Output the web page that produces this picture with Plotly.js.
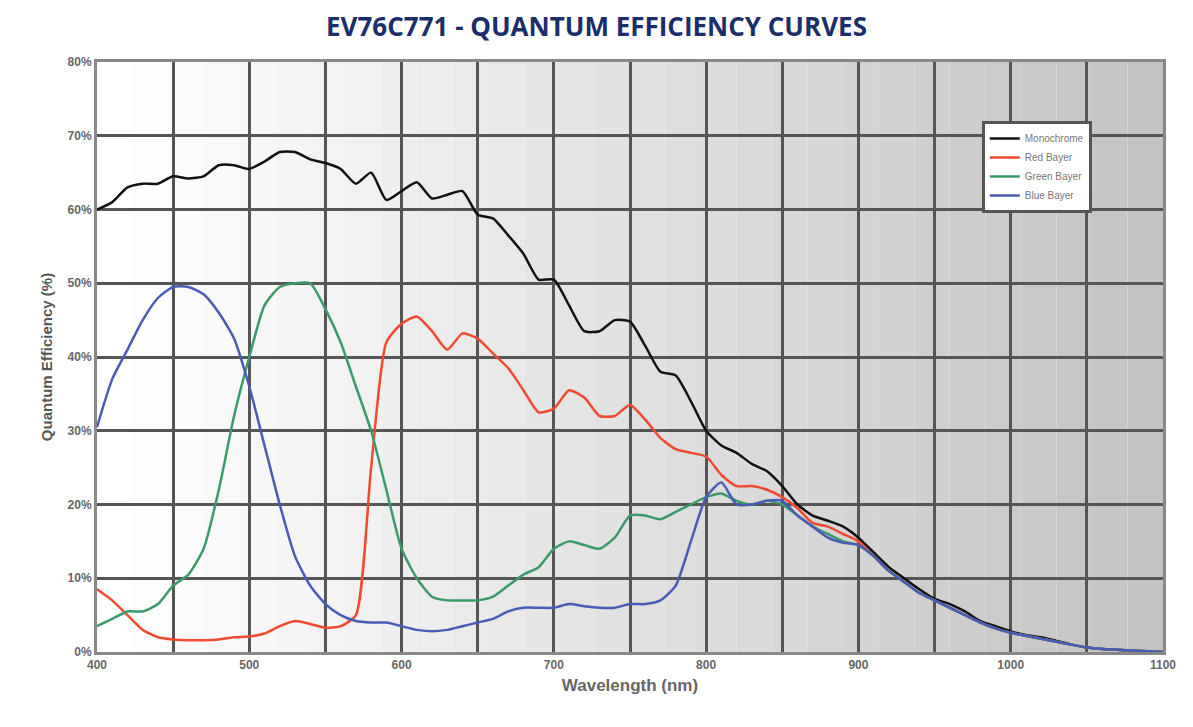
<!DOCTYPE html>
<html>
<head>
<meta charset="utf-8">
<script src="https://cdn.plot.ly/plotly-3.0.1.min.js"></script>
<style>body{margin:0;background:#fff}#myDiv{width:1193px;height:727px}</style>
</head>
<body>
<div id="myDiv"></div>
<script>
var wavelength = [];
for (var w = 400; w <= 1100; w += 10) wavelength.push(w);

var tail = [13.5,11.5,10,8.5,7.2,6.5,5.5,4.2,3.5,2.8,2.3,2,1.5,1,0.6,0.4,0.3,0.2,0.1,0];
var tailBayer = [13,11,9.5,8,7,6,5,4,3.2,2.6,2.2,1.8,1.4,1,0.6,0.4,0.3,0.2,0.1,0];

var mono = [60,61,63,63.5,63.5,64.5,64.2,64.5,66,66,65.5,66.5,67.8,67.8,66.8,66.3,65.5,63.5,65,61.3,
  62.5,63.7,61.5,62,62.5,59.3,58.8,56.5,54,50.5,50.5,47,43.5,43.5,45,44.8,41.5,38,37.5,34,
  30,28,27,25.5,24.5,22.5,20,18.5,17.8,17,15.5].concat(tail);
var red = [8.5,7,5,3,2,1.7,1.6,1.6,1.7,2,2.1,2.5,3.5,4.2,3.8,3.3,3.5,5,25,42,
  44.5,45.5,43.5,41,43.2,42.5,40.5,38.5,35.5,32.5,33,35.5,34.5,32,32,33.5,31.5,29,27.5,27,
  26.5,24,22.5,22.5,22,21,19.5,17.5,17,16,15].concat(tailBayer);
var green = [3.5,4.5,5.5,5.5,6.5,9,10.5,14,22,32,40,47,49.5,50,50,46.5,42,36,30,22,
  14,10,7.5,7,7,7,7.5,9,10.5,11.5,14,15,14.5,14,15.5,18.5,18.5,18,19,20,
  21,21.5,20.5,20,20.5,20,18.5,17,16,15,14.5].concat(tailBayer);
var blue = [30.5,37,41,45,48,49.5,49.5,48.5,46,42.5,36,28,20,13,9,6.5,5,4.2,4,4,
  3.5,3,2.8,3,3.5,4,4.5,5.5,6,6,6,6.5,6.2,6,6,6.5,6.5,7,9,15,
  21,23,20,20,20.5,20.5,18.5,17,15.5,14.8,14.5].concat(tailBayer);

var names = ['Monochrome', 'Red Bayer', 'Green Bayer', 'Blue Bayer'];
var colors = ['#111111', '#f04a30', '#3a9a6a', '#4a5ab8'];
var series = [mono, red, green, blue];

var data = series.map(function (s, i) {
  return {x: wavelength, y: s, name: names[i], type: 'scatter', mode: 'lines',
          line: {color: colors[i], width: 2.5, shape: 'spline', smoothing: 0.6}};
});

// gradient background, white to gray
var shapes = [];
var steps = 30;
for (var i = 0; i < steps; i++) {
  var g = Math.round(255 - 60 * i / (steps - 1));
  shapes.push({type: 'rect', xref: 'paper', yref: 'paper', x0: i / steps, x1: (i + 1) / steps,
    y0: 0, y1: 1, fillcolor: 'rgb(' + g + ',' + g + ',' + g + ')', line: {width: 0}, layer: 'below'});
}

var tickFont = {family: 'Liberation Sans, Arial, sans-serif', size: 12, color: '#666', weight: 'bold'};
var layout = {
  width: 1193, height: 727,
  margin: {l: 97, r: 30, t: 62, b: 75},
  paper_bgcolor: '#fff',
  plot_bgcolor: 'rgba(0,0,0,0)',
  shapes: shapes,
  title: {text: '<b>EV76C771 - QUANTUM EFFICIENCY CURVES</b>', x: 0.5, y: 0.975,
    font: {family: 'Open Sans, sans-serif', size: 26, color: '#1c2e6a'}},
  xaxis: {range: [400, 1100], dtick: 100, tick0: 400, gridcolor: '#555', gridwidth: 3,
    minor: {dtick: 50, showgrid: true, gridcolor: '#555', gridwidth: 3},
    linecolor: '#888', linewidth: 3, mirror: true, showline: true, zeroline: false,
    tickfont: tickFont, ticks: '',
    title: {text: '<b>Wavelength (nm)</b>', standoff: 8,
      font: {family: 'Liberation Sans, Arial, sans-serif', size: 17, color: '#666'}}},
  yaxis: {range: [0, 80], dtick: 10, ticksuffix: '%', gridcolor: '#555', gridwidth: 3,
    linecolor: '#888', linewidth: 3, mirror: true, showline: true, zeroline: false,
    tickfont: tickFont, ticks: '',
    title: {text: '<b>Quantum Efficiency (%)</b>', standoff: 12,
      font: {family: 'Liberation Sans, Arial, sans-serif', size: 15, color: '#555'}}},
  legend: {x: 0.83, y: 0.9, xanchor: 'left', yanchor: 'top', bgcolor: '#fff',
    bordercolor: '#555', borderwidth: 3, tracegroupgap: 22,
    font: {family: 'Liberation Sans, Arial, sans-serif', size: 10, color: '#777'}},
  showlegend: true
};

Plotly.newPlot('myDiv', data, layout, {displayModeBar: false});
</script>
</body>
</html>
